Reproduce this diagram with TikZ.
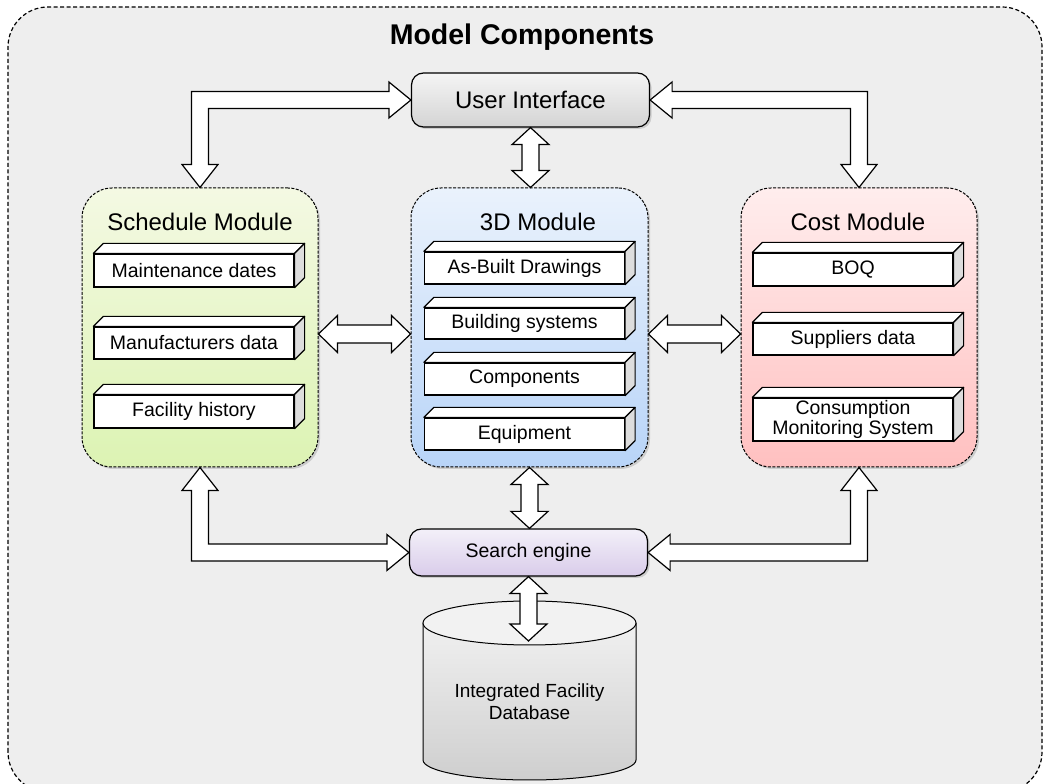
\documentclass[tikz,border=0pt]{standalone}
\usepackage{fontspec}
\setmainfont{Liberation Sans}
\usetikzlibrary{positioning}
\usetikzlibrary{calc}
\usetikzlibrary{shadows}

\definecolor{framegray}{HTML}{EEEEEE}
\definecolor{sidegray}{HTML}{DDDDDD}
\definecolor{schedtop}{HTML}{F4F9E3}
\definecolor{schedbot}{HTML}{DCF3B3}
\definecolor{tdtop}{HTML}{EAF2FC}
\definecolor{tdbot}{HTML}{B8D4F8}
\definecolor{costtop}{HTML}{FFEDED}
\definecolor{costbot}{HTML}{FFC0C0}
\definecolor{searchtop}{HTML}{F3F0F9}
\definecolor{searchbot}{HTML}{D9CCEA}

\tikzset{
  frame/.style={draw, line width=1.2pt, dash pattern=on 4pt off 2.5pt, fill=framegray, rounded corners=40pt},
  module/.style={draw, line width=1pt, dash pattern=on 3pt off 1.5pt, rounded corners=30pt,
    minimum width=236pt, minimum height=279pt, inner sep=0pt,
    drop shadow={shadow xshift=2pt, shadow yshift=-2pt, opacity=0.3}},
  modtitle/.style={font=\fontsize{24}{28}\selectfont, inner sep=0pt},
  roundbox/.style={draw, line width=1.2pt, rounded corners=12pt, minimum width=238pt, inner sep=0pt,
    drop shadow={shadow xshift=2pt, shadow yshift=-2pt, opacity=0.3}},
  itembox/.style={draw, fill=white, line width=1.2pt, minimum width=200pt, inner sep=0pt,
    font=\fontsize{19.5}{18}\selectfont, align=center},
  itemface/.style={draw, line width=1.2pt, line join=round},
  blockarrow/.style={draw, fill=white, line width=1.2pt, line join=miter},
  dbline/.style={draw, line width=1pt},
}

% box with a top and a side face
\newcommand{\itembox}[4][33]{%
  \node[itembox, minimum height=#1pt] (#2) at (#3) {#4};
  \draw[itemface, fill=white] (#2.north west) -- ++(10,10) -- ($(#2.north east)+(10,10)$) -- (#2.north east) -- cycle;
  \draw[itemface, fill=sidegray] (#2.north east) -- ++(10,10) -- ($(#2.south east)+(10,10)$) -- (#2.south east) -- cycle;
}

% vertical two-headed block arrow, #1 above #2
\newcommand{\vdarrow}[2]{%
  \draw[blockarrow] let \p1=(#1), \p2=(#2) in
    (\p1) -- ({\x1+18.5pt},{\y1-17pt}) -- ({\x1+8.5pt},{\y1-17pt})
    -- ({\x1+8.5pt},{\y2+17pt}) -- ({\x1+18.5pt},{\y2+17pt}) -- (\x1,\y2)
    -- ({\x1-18.5pt},{\y2+17pt}) -- ({\x1-8.5pt},{\y2+17pt})
    -- ({\x1-8.5pt},{\y1-17pt}) -- ({\x1-18.5pt},{\y1-17pt}) -- cycle;
}

% horizontal two-headed block arrow, #1 left of #2
\newcommand{\hdarrow}[2]{%
  \draw[blockarrow] let \p1=(#1), \p2=(#2) in
    (\p1) -- ({\x1+19pt},{\y1+18.5pt}) -- ({\x1+19pt},{\y1+9pt})
    -- ({\x2-19pt},{\y1+9pt}) -- ({\x2-19pt},{\y1+18.5pt}) -- (\x2,\y1)
    -- ({\x2-19pt},{\y1-18.5pt}) -- ({\x2-19pt},{\y1-9pt})
    -- ({\x1+19pt},{\y1-9pt}) -- ({\x1+19pt},{\y1-18.5pt}) -- cycle;
}

% elbow block arrow: #3 = x direction of head at #1, #4 = y direction of head at #2
\newcommand{\elbowarrow}[4]{%
  \draw[blockarrow] let \p1=(#1), \p2=(#2) in
    (\p1) -- ({\x1-(#3)*22pt},{\y1-(#4)*18pt}) -- ({\x1-(#3)*22pt},{\y1-(#4)*8.5pt})
    -- ({\x2-(#3)*8.5pt},{\y1-(#4)*8.5pt}) -- ({\x2-(#3)*8.5pt},{\y2-(#4)*23pt})
    -- ({\x2-(#3)*18pt},{\y2-(#4)*23pt}) -- (\x2,\y2)
    -- ({\x2+(#3)*18pt},{\y2-(#4)*23pt}) -- ({\x2+(#3)*8.5pt},{\y2-(#4)*23pt})
    -- ({\x2+(#3)*8.5pt},{\y1+(#4)*8.5pt}) -- ({\x1-(#3)*22pt},{\y1+(#4)*8.5pt})
    -- ({\x1-(#3)*22pt},{\y1+(#4)*18pt}) -- cycle;
}

\begin{document}
\begin{tikzpicture}[x=1pt, y=1pt]
  \useasboundingbox (0,0) rectangle (1044,784);
  \draw[frame] (8,-8) rectangle (1042,777);

  \node[font=\bfseries\fontsize{28.5}{32}\selectfont] (title) at (522,747) {Model Components};

  % top and bottom boxes
  \node[roundbox, minimum height=54pt, top color=white!96!black, bottom color=black!17,
    font=\fontsize{24}{28}\selectfont] (ui) at (530.5,684) {User Interface};
  \node[roundbox, minimum height=47pt, top color=searchtop, bottom color=searchbot,
    font=\fontsize{19.5}{22}\selectfont] (search) at (528.5,231.5) {Search engine};

  % database
  \shade[top color=black!4, bottom color=black!19]
    (423,161) -- (423,24) arc[start angle=180, end angle=360, x radius=106.5, y radius=20]
    -- (636,161) arc[start angle=0, end angle=180, x radius=106.5, y radius=22] -- cycle;
  \draw[dbline] (423,161) -- (423,24) arc[start angle=180, end angle=360, x radius=106.5, y radius=20]
    -- (636,161);
  \draw[dbline, fill=black!5] (529.5,161) ellipse[x radius=106.5, y radius=22];
  \node[font=\fontsize{19}{22}\selectfont, align=center] (db) at (529.5,82) {Integrated Facility\\Database};
  \coordinate (dbtop) at (529.5,143);

  % modules
  \node[module, top color=schedtop, bottom color=schedbot] (sched) at (200,456.5) {};
  \node[module, minimum width=237pt, top color=tdtop, bottom color=tdbot] (td) at (529.5,456.5) {};
  \node[module, top color=costtop, bottom color=costbot] (cost) at (859,456.5) {};

  \node[modtitle] (schedt) at (200,562) {Schedule Module};
  \node[modtitle] (tdt) at (538,562) {3D Module};
  \node[modtitle] (costt) at (858,562) {Cost Module};

  \itembox{maint}{194,513.5}{Maintenance dates}
  \itembox[32]{manuf}{194,441}{Manufacturers data}
  \itembox{facil}{194,372.5}{Facility history}

  \itembox[32]{asbuilt}{524.5,516}{As-Built Drawings}
  \itembox[31]{bsys}{524.5,460.5}{Building systems}
  \itembox[32]{comps}{524.5,405}{Components}
  \itembox[32]{equip}{524.5,350}{Equipment}

  \itembox{boq}{853,514.5}{BOQ}
  \itembox[32]{suppl}{853,445}{Suppliers data}
  \itembox[43]{consum}{853,364.5}{Consumption\\Monitoring System}

  % arrows
  \vdarrow{ui.south}{td.north}
  \vdarrow{td.south}{search.north}
  \vdarrow{search.south}{dbtop}
  \hdarrow{$(sched.east)+(0,-6.5)$}{$(td.west)+(0,-6.5)$}
  \hdarrow{$(td.east)+(0,-6.5)$}{$(cost.west)+(0,-6.5)$}
  \elbowarrow{ui.west}{sched.north}{1}{-1}
  \elbowarrow{ui.east}{cost.north}{-1}{-1}
  \elbowarrow{search.west}{sched.south}{1}{1}
  \elbowarrow{search.east}{cost.south}{-1}{1}
\end{tikzpicture}
\end{document}
